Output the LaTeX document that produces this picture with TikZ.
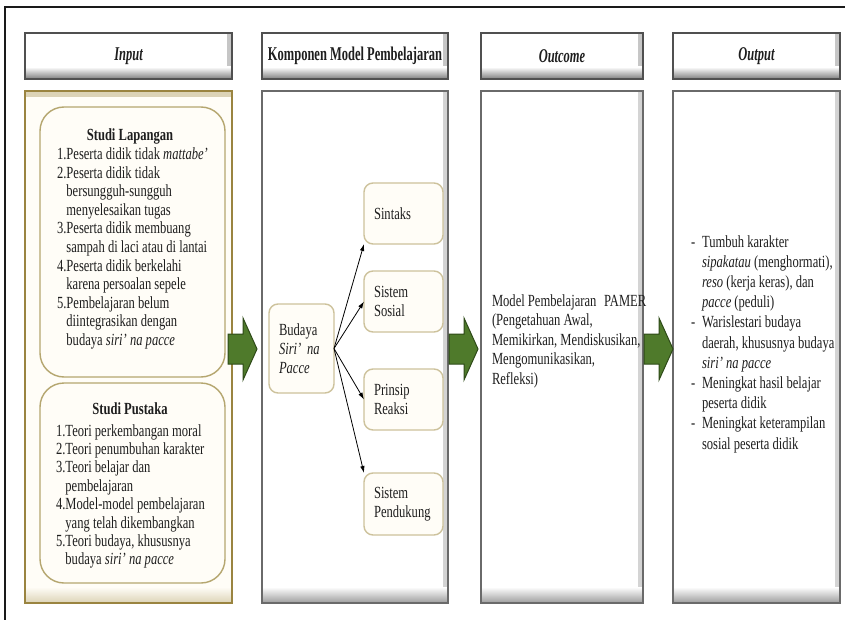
\documentclass[tikz,border=0pt]{standalone}
\usepackage{fontspec}
\setmainfont{Liberation Serif}[FakeStretch=0.74]
\newfontfamily\headfont{Liberation Serif}[FakeStretch=0.64]
\usetikzlibrary{arrows.meta}

\definecolor{frameline}{HTML}{1A1A1A}
\definecolor{headborder}{HTML}{505050}
\definecolor{headshade}{HTML}{7E7E7E}
\definecolor{goldborder}{HTML}{9A8440}
\definecolor{goldshade}{HTML}{DCD3B6}
\definecolor{cream}{HTML}{FFFDF7}
\definecolor{khaki}{HTML}{B5A66F}
\definecolor{tanline}{HTML}{CDC29C}
\definecolor{grayborder}{HTML}{6A6A6A}
\definecolor{grayshade}{HTML}{9C9C9C}
\definecolor{arrowgreen}{HTML}{4F7A2B}
\definecolor{arrowdark}{HTML}{2E4A18}
\definecolor{textcol}{HTML}{1E1E1E}

\tikzset{
  blockarrow/.pic={
    \draw[fill=arrowgreen, draw=arrowdark, line width=1pt, line join=miter]
      (0,-15) -- (15,-15) -- (15,-31) -- (29,0) -- (15,31) -- (15,15) -- (0,15) -- cycle;
  }
}

\begin{document}
\begin{tikzpicture}[x=1pt,y=-1pt,
  every node/.style={inner sep=0pt, outer sep=0pt, text=textcol},
  headbox/.style={draw=headborder, line width=1.3pt, fill=white, anchor=north west,
    minimum height=46pt, font=\headfont\fontsize{19.5}{22}\selectfont\bfseries,
    path picture={
      \shade[left color=white, right color=headshade!45]
        ([xshift=-5pt]path picture bounding box.north east) rectangle (path picture bounding box.south east);
      \shade[top color=white, bottom color=headshade]
        ([yshift=12pt]path picture bounding box.south west) rectangle (path picture bounding box.south east);
    }},
  bodybox/.style={draw=grayborder, line width=1.3pt, fill=white, anchor=north west,
    minimum height=512pt,
    path picture={
      \shade[left color=white, right color=grayshade!45]
        ([xshift=-5pt]path picture bounding box.north east) rectangle (path picture bounding box.south east);
      \shade[top color=white, bottom color=grayshade]
        ([yshift=16pt]path picture bounding box.south west) rectangle (path picture bounding box.south east);
    }},
  bodygold/.style={draw=goldborder, line width=1.5pt, fill=cream, anchor=north west,
    minimum height=512pt,
    path picture={
      \shade[top color=goldshade, bottom color=cream]
        (path picture bounding box.north west) rectangle ([yshift=-6pt]path picture bounding box.north east);
      \shade[top color=cream, bottom color=goldshade]
        ([yshift=16pt]path picture bounding box.south west) rectangle (path picture bounding box.south east);
    }},
  studybox/.style={draw=khaki, line width=1.4pt, fill=cream, rounded corners=24pt, anchor=north west},
  compbox/.style={draw=tanline, line width=1.4pt, fill=cream, rounded corners=9pt,
    align=left, inner xsep=10pt, font=\fontsize{17}{19}\selectfont},
  % multi-line texts are placed by the baseline of their last line
  listtext/.style={anchor=base west, align=left, font=\fontsize{17}{18.6}\selectfont},
  plaintext/.style={anchor=base west, align=left, font=\fontsize{17}{19.5}\selectfont},
  conn/.style={draw=black, line width=0.8pt, -{Latex[length=7pt,width=4.5pt]}}
]
\useasboundingbox (0,0) rectangle (845,620);
\fill[white] (0,0) rectangle (845,620);

% page frame
\draw[frameline, line width=1.2pt] (5,620) -- (5,7) -- (845,7);

% column headers
\node[headbox, minimum width=207pt] (hIn)  at (25,33)  {\itshape Input};
\node[headbox, minimum width=186pt] (hKom) at (262,33) {Komponen Model Pembelajaran};
\node[headbox, minimum width=162pt] (hOc)  at (481,33) {\itshape Outcome};
\node[headbox, minimum width=167pt] (hOp)  at (673,33) {\itshape Output};

% column bodies
\node[bodygold, minimum width=207pt] (bIn)  at (25,91)  {};
\node[bodybox,  minimum width=186pt] (bKom) at (262,91) {};
\node[bodybox,  minimum width=162pt] (bOc)  at (481,91) {};
\node[bodybox,  minimum width=167pt] (bOp)  at (673,91) {};

% Input: field study and literature study
\node[studybox, minimum width=185pt, minimum height=270pt] (lap) at (40,107) {};
\node[font=\fontsize{17}{18.6}\selectfont\bfseries, anchor=base] (lapT) at (130,141) {Studi Lapangan};
\node[listtext] (lapL) at (57,345.5) {%
1.Peserta didik tidak \textit{mattabe’}\\
2.Peserta didik tidak\\
\hphantom{2.}bersungguh-sungguh\\
\hphantom{2.}menyelesaikan tugas\\
3.Peserta didik membuang\\
\hphantom{3.}sampah di laci atau di lantai\\
4.Peserta didik berkelahi\\
\hphantom{4.}karena persoalan sepele\\
5.Pembelajaran belum\\
\hphantom{5.}diintegrasikan dengan\\
\hphantom{5.}budaya \textit{siri’ na pacce}};

\node[studybox, minimum width=185pt, minimum height=200pt] (pus) at (40,383) {};
\node[font=\fontsize{17}{18.6}\selectfont\bfseries, anchor=base] (pusT) at (130,414) {Studi Pustaka};
\node[listtext, font=\fontsize{17}{18.4}\selectfont] (pusL) at (56,564.8) {%
1.Teori perkembangan moral\\
2.Teori penumbuhan karakter\\
3.Teori belajar dan\\
\hphantom{3.}pembelajaran\\
4.Model-model pembelajaran\\
\hphantom{4.}yang telah dikembangkan\\
5.Teori budaya, khususnya\\
\hphantom{5.}budaya \textit{siri’ na pacce}};

% Komponen: culture node and its four components
\node[compbox, minimum width=65pt, minimum height=89pt, text width=45pt] (bud) at (301.5,348.5)
  {Budaya\\\textit{Siri’ na}\\\textit{Pacce}};
\node[compbox, minimum width=79pt, minimum height=61pt, text width=59pt] (sin) at (403.5,213.5) {Sintaks};
\node[compbox, minimum width=79pt, minimum height=61pt, text width=59pt] (sos) at (403.5,301.5) {Sistem\\Sosial};
\node[compbox, minimum width=79pt, minimum height=61pt, text width=59pt] (rea) at (403.5,399.5) {Prinsip\\Reaksi};
\node[compbox, minimum width=79pt, minimum height=62pt, text width=59pt] (pen) at (403.5,504) {Sistem\\Pendukung};

\draw[conn] (bud.east) -- (sin.south west);
\draw[conn] (bud.east) -- (sos.west);
\draw[conn] (bud.east) -- (rea.west);
\draw[conn] (bud.east) -- (pen.north west);

% Outcome text
\node[plaintext] (oc) at (492,384) {%
Model Pembelajaran\hspace{0.45em}PAMER\\
(Pengetahuan Awal,\\
Memikirkan, Mendiskusikan,\\
Mengomunikasikan,\\
Refleksi)};

% Output text
\node[plaintext, font=\fontsize{17}{20.2}\selectfont] (op) at (691,449) {%
\makebox[11pt][l]{-}Tumbuh karakter\\
\hspace*{11pt}\textit{sipakatau} (menghormati),\\
\hspace*{11pt}\textit{reso} (kerja keras), dan\\
\hspace*{11pt}\textit{pacce} (peduli)\\
\makebox[11pt][l]{-}Warislestari budaya\\
\hspace*{11pt}daerah, khususnya budaya\\
\hspace*{11pt}\textit{siri’ na pacce}\\
\makebox[11pt][l]{-}Meningkat hasil belajar\\
\hspace*{11pt}peserta didik\\
\makebox[11pt][l]{-}Meningkat keterampilan\\
\hspace*{11pt}sosial peserta didik};

% flow arrows between the columns
\pic at (228,349) {blockarrow};
\pic at (449,349) {blockarrow};
\pic at (644,349) {blockarrow};
\end{tikzpicture}
\end{document}
